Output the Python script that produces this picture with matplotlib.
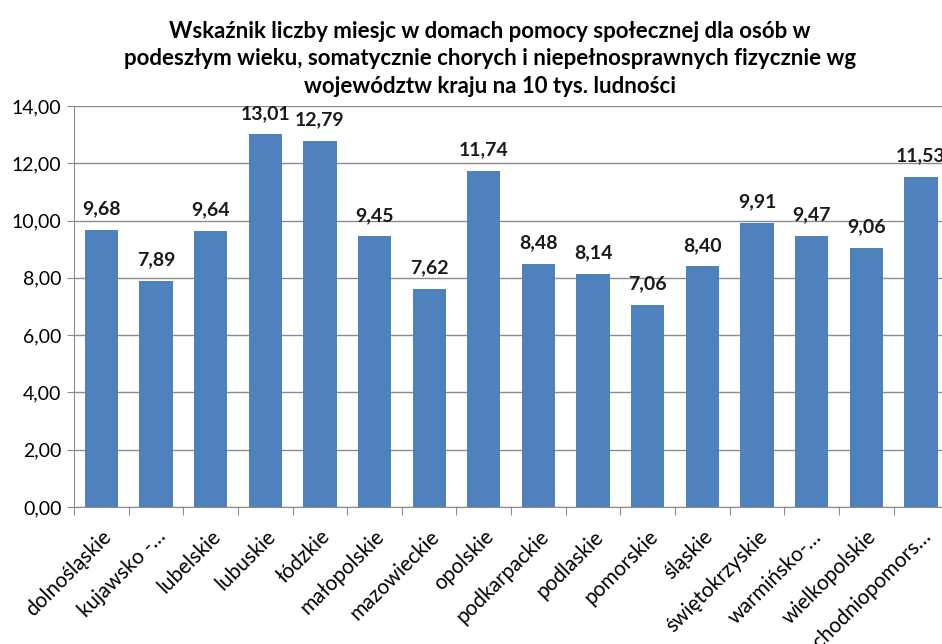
import numpy as np
import matplotlib
matplotlib.use("Agg")
import matplotlib.pyplot as plt

plt.rcParams["font.family"] = ["Lato", "DejaVu Sans"]

# Data
regions = [
    "dolnośląskie", "kujawsko -…", "lubelskie", "lubuskie", "łódzkie",
    "małopolskie", "mazowieckie", "opolskie", "podkarpackie", "podlaskie",
    "pomorskie", "śląskie", "świętokrzyskie", "warmińsko-…", "wielkopolskie",
    "zachodniopomors…",
]
values = [9.68, 7.89, 9.64, 13.01, 12.79, 9.45, 7.62, 11.74, 8.48, 8.14,
          7.06, 8.40, 9.91, 9.47, 9.06, 11.53]
yticks = [0, 2, 4, 6, 8, 10, 12, 14]

title = ("Wskaźnik liczby miesjc w domach pomocy społecznej dla osób w\n"
         "podeszłym wieku, somatycznie chorych i niepełnosprawnych fizycznie wg\n"
         "województw kraju na 10 tys. ludności")

fig = plt.figure(figsize=(9.42, 6.44), dpi=100)
ax = fig.add_axes([0.0786, 0.2127, 0.928, 0.6227])

x = np.arange(len(regions))
ax.bar(x, values, width=0.61, color="#4F81BD", zorder=3)

# value labels above bars
for xi, v in zip(x, values):
    ax.annotate(f"{v:.2f}".replace(".", ","), (xi, v), xytext=(0, 9),
                textcoords="offset points", ha="center", va="bottom",
                fontsize=14, fontweight="bold", color="#1a1a1a")

ax.set_xlim(-0.5, len(regions) - 0.5)
ax.set_ylim(0, 14)
ax.set_yticks(yticks)
ax.set_yticklabels([f"{t:.2f}".replace(".", ",") for t in yticks], fontsize=14)
ax.grid(axis="y", color="#8c8c8c", linewidth=1, zorder=0)

# tick marks between categories, labels at category centres
ax.set_xticks(np.arange(len(regions) + 1) - 0.5, minor=False)
ax.set_xticklabels([])
ax.set_xticks(x, minor=True)
ax.set_xticklabels(regions, minor=True, rotation=45, ha="right",
                   rotation_mode="anchor", fontsize=15)
ax.tick_params(axis="x", which="minor", length=0, pad=14)
ax.tick_params(axis="x", which="major", length=6, color="#8c8c8c")
ax.tick_params(axis="y", length=5, color="#8c8c8c", pad=4)

for s in ["top", "right"]:
    ax.spines[s].set_visible(False)
for s in ["left", "bottom"]:
    ax.spines[s].set_color("#8c8c8c")

fig.text(0.52, 0.968, title, ha="center", va="top", fontsize=16,
         fontweight="bold", linespacing=1.4)

fig.savefig("out.png", dpi=100)
